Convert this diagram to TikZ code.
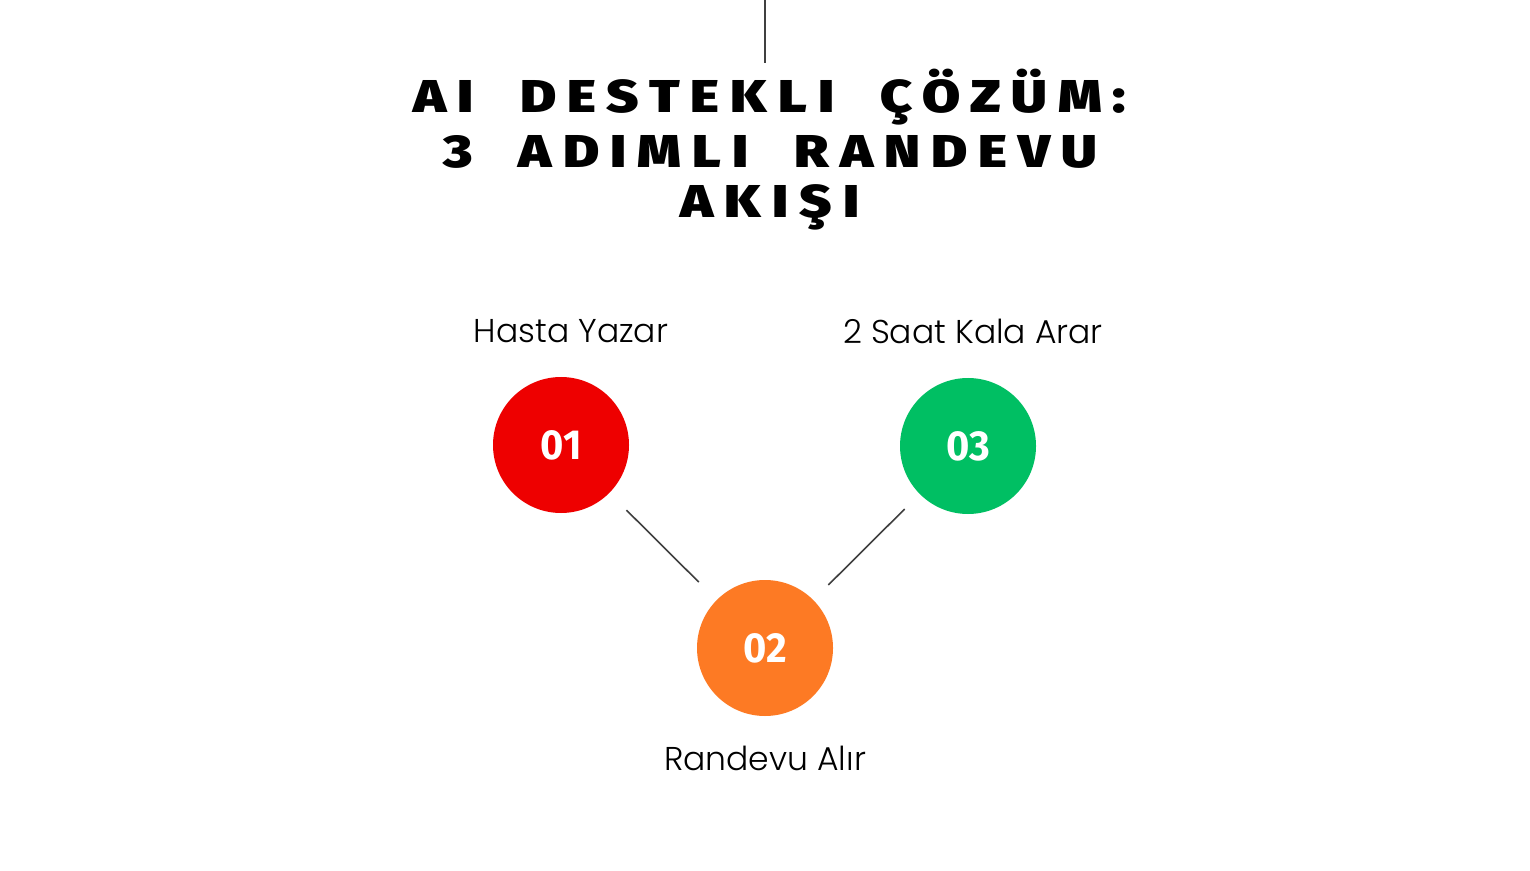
\documentclass[tikz,border=0pt]{standalone}
\usepackage{fontspec}
\setmainfont{Poppins}
\newfontfamily\titlefont{Fira Sans}[UprightFont={* Black},LetterSpace=20,WordSpace=2]
\newfontfamily\labelfont{Poppins}[UprightFont={* Light}]
\newfontfamily\numfont{Fira Sans}[UprightFont={* Bold}]
\definecolor{cred}{HTML}{EE0000}
\definecolor{cgreen}{HTML}{00BF63}
\definecolor{corange}{HTML}{FD7A24}
\definecolor{cline}{HTML}{404040}
\begin{document}
\begin{tikzpicture}[x=0.5pt,y=-0.5pt,
  stepcircle/.style={circle,minimum size=68pt,inner sep=0pt,text=white,font=\numfont\fontsize{21}{21}\selectfont},
  steplabel/.style={font=\labelfont\fontsize{16.5}{16.5}\selectfont,text=black,inner sep=0pt},
  titleline/.style={font=\titlefont\fontsize{23}{23}\selectfont,text=black,inner sep=0pt,anchor=center},
  conn/.style={draw=cline,line width=0.8pt}]
\useasboundingbox[fill=white] (0,0) rectangle (1530,871);
\coordinate (topA) at (765,0);
\coordinate (topB) at (765,63);
\draw[conn] (topA) -- (topB);
\node[titleline] (t1) at (770,97) {\scalebox{1.2}[1]{AI DESTEKLI ÇÖZÜM:}};
\node[titleline] (t2) at (770,152) {\scalebox{1.2}[1]{3 ADIMLI RANDEVU}};
\node[titleline] (t3) at (770,207) {\scalebox{1.2}[1]{AKIŞI}};
\node[stepcircle,fill=cred] (s1) at (561,445) {\scalebox{0.95}[1]{01}};
\node[stepcircle,fill=corange] (s2) at (765,648) {\scalebox{0.95}[1]{02}};
\node[stepcircle,fill=cgreen] (s3) at (968,446) {\scalebox{0.95}[1]{03}};
\node[steplabel] (l1) at (571,331) {Hasta Yazar};
\node[steplabel] (l3) at (973,331) {2 Saat Kala Arar};
\node[steplabel] (l2) at (765,758) {Randevu Alır};
\draw[conn,shorten <=12pt,shorten >=12.5pt] (s1) -- (s2);
\draw[conn,shorten <=10.5pt,shorten >=10.5pt] (s3) -- (s2);
\end{tikzpicture}
\end{document}
